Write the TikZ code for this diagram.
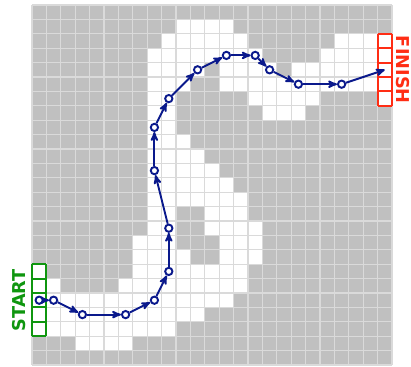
\documentclass[tikz,border=0pt]{standalone}
\usepackage{fontspec}
\setsansfont{DejaVu Sans}
\usepackage{xcolor}
\usepackage{tikz}
\usetikzlibrary{positioning,arrows}

\definecolor{wall}{RGB}{192,192,192}
\definecolor{gridline}{RGB}{218,218,218}
\definecolor{route}{RGB}{10,25,140}
\definecolor{startgreen}{RGB}{15,150,15}
\definecolor{finishred}{RGB}{255,45,20}

\begin{document}
\begin{tikzpicture}[->,>=stealth',x=0.5cm,y=0.5cm]
    \tikzstyle{waypoint}=[circle,draw=route,fill=white,line width=1.9pt,inner sep=0pt,minimum size=7.2pt]
    \tikzstyle{label text}=[font=\sffamily\bfseries\fontsize{17.5}{17.5}\selectfont]
    \useasboundingbox (-2.222,0.347) rectangle (26.319,-25.069);
    % maze: walls first, then the open cells row by row
    \fill[wall] (0,0) rectangle (25,-25);
    \foreach \r/\a/\b in {1/10/13, 2/9/14, 2/21/23, 3/8/15, 3/20/23,
        4/8/11, 4/13/16, 4/18/23, 5/8/10, 5/13/23, 6/8/9, 6/15/19,
        7/8/9, 7/16/18, 8/8/9, 9/8/10, 10/8/11, 11/8/12, 12/8/13,
        13/8/14, 14/8/9, 14/12/14, 15/8/9, 15/12/15, 16/7/9, 16/13/15,
        17/7/10, 17/13/15, 18/7/14, 19/1/1, 19/6/14, 20/1/13, 21/1/11,
        22/1/9, 23/3/6, 18/0/0, 19/0/0, 20/0/0, 21/0/0, 22/0/0,
        2/24/24, 3/24/24, 4/24/24, 5/24/24, 6/24/24}
        \fill[white] (\a,-\r) rectangle (\b+1,-\r-1);
    \foreach \k in {0,...,25}
        \draw[-,gridline,line width=1.2pt] (\k,0) -- (\k,-25) (0,-\k) -- (25,-\k);
    % start and finish
    \draw[-,startgreen,line width=1.8pt,step=0.5cm] (0,-18) grid (1,-23);
    \draw[-,finishred,line width=1.8pt,step=0.5cm] (24,-2) grid (25,-7);
    \node[label text,text=startgreen,rotate=90]  (start)  at (-0.87,-20.5) {START};
    \node[label text,text=finishred,rotate=-90]  (finish) at (25.76,-4.5)  {FINISH};
    % route
    \node[waypoint] (A) at (0.5,-20.5) {};
    \node[waypoint] (B) at (1.5,-20.5) {};
    \node[waypoint] (C) at (3.5,-21.5) {};
    \node[waypoint] (D) at (6.5,-21.5) {};
    \node[waypoint] (E) at (8.5,-20.5) {};
    \node[waypoint] (F) at (9.5,-18.5) {};
    \node[waypoint] (G) at (9.5,-15.5) {};
    \node[waypoint] (H) at (8.5,-11.5) {};
    \node[waypoint] (I) at (8.5,-8.5) {};
    \node[waypoint] (J) at (9.5,-6.5) {};
    \node[waypoint] (K) at (11.5,-4.5) {};
    \node[waypoint] (L) at (13.5,-3.5) {};
    \node[waypoint] (M) at (15.5,-3.5) {};
    \node[waypoint] (N) at (16.5,-4.5) {};
    \node[waypoint] (O) at (18.5,-5.5) {};
    \node[waypoint] (P) at (21.5,-5.5) {};
    \coordinate (goal) at (24.5,-4.5);
\path[draw=route,line width=1.9pt]
(A) edge (B)  (B) edge (C)  (C) edge (D)  (D) edge (E)
(E) edge (F)  (F) edge (G)  (G) edge (H)  (H) edge (I)
(I) edge (J)  (J) edge (K)  (K) edge (L)  (L) edge (M)
(M) edge (N)  (N) edge (O)  (O) edge (P)  (P) edge (goal);
  \end{tikzpicture}
\end{document}
